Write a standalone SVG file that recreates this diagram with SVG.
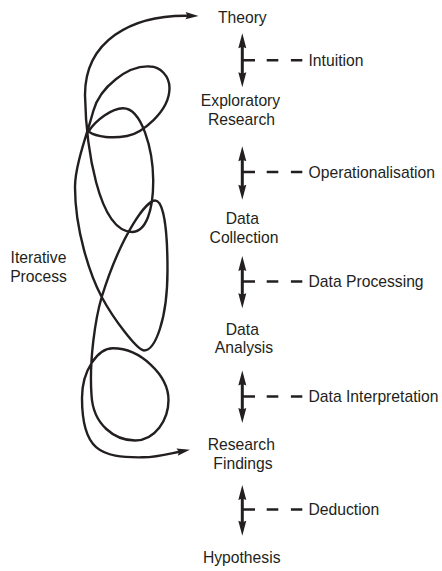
<svg xmlns="http://www.w3.org/2000/svg" width="442" height="571" viewBox="0 0 442 571">
  <style>
    text { font-family: "Liberation Sans", Arial, Helvetica, sans-serif; font-size: 15.7px; fill: #231f20; }
    .node text { text-anchor: middle; }
    .loop { fill: none; stroke: #231f20; stroke-width: 2.4; stroke-linejoin: round; }
    .link { fill: none; stroke: #231f20; stroke-width: 3; }
    .lead { fill: none; stroke: #231f20; stroke-width: 2.6; stroke-dasharray: 12.7 11.7 11.6 12.6 11.4; }
  </style>
  <defs>
    <!-- arrowheads for the iterative loop -->
    <marker id="loopHeadStart" markerUnits="userSpaceOnUse" viewBox="-12 -8 24 16" markerWidth="24" markerHeight="16" refX="0" refY="0" orient="auto" overflow="visible">
      <path d="M-7.5,0 L5.5,-3.6 L3.5,0 L5.5,3.6 Z" fill="#231f20"/>
    </marker>
    <marker id="loopHeadEnd" markerUnits="userSpaceOnUse" viewBox="-12 -8 24 16" markerWidth="24" markerHeight="16" refX="0" refY="0" orient="auto" overflow="visible">
      <path d="M8,0 L-5,-3.8 L-3,0 L-5,3.8 Z" fill="#231f20"/>
    </marker>
    <!-- arrowheads for the vertical two-way links -->
    <marker id="linkStart" markerUnits="userSpaceOnUse" viewBox="-12 -8 24 16" markerWidth="24" markerHeight="16" refX="0" refY="0" orient="auto" overflow="visible">
      <path d="M-8,0 L7,-4 L5.5,0 L7,4 Z" fill="#231f20"/>
    </marker>
    <marker id="linkEnd" markerUnits="userSpaceOnUse" viewBox="-12 -8 24 16" markerWidth="24" markerHeight="16" refX="0" refY="0" orient="auto" overflow="visible">
      <path d="M8,0 L-7,-4 L-5.5,0 L-7,4 Z" fill="#231f20"/>
    </marker>
  </defs>

  <g id="connectors">
    <!-- iterative loop from Theory down to Research Findings -->
    <path id="iteration" class="loop" marker-start="url(#loopHeadStart)" marker-end="url(#loopHeadEnd)"
      d="M191,15.8 C130,14 85,42 85,95 C86,146 98,231 132,232 C146,232 153.5,210 153.2,180 C153,150 142,108.3 123,108.3 C112,108.3 96,120 88.5,131.5 C97,137.5 113,138.5 127,136 C141,133.5 169.5,112 169.5,88 C169.5,76 160,66.5 150,66.5 C128,65 99.8,87 93.3,111 C87.5,133 75,165 75,187 C75,230 90,275 101.7,297 C113.5,319 137,350 144,350.5 C155,350.5 167.5,320 167.5,270 C167.5,225 163,200.5 155,200.5 C147,200.5 122,232 101.7,297 C95.5,318 89,360 91.5,395 C93,425 115,440.5 135,440.5 C155,440.5 168.5,420 168.5,400 C168.5,375 140,348.3 113,348.3 C98,348.3 82,370 82,398 C82,450 100,458 143,457.3 C158,457.3 170,453.5 182,451.2"/>

    <!-- two-way links between stages -->
    <g id="link-theory-exploratory">
      <line class="link" x1="242.3" y1="41.3" x2="242.3" y2="79.3" marker-start="url(#linkStart)" marker-end="url(#linkEnd)"/>
      <line class="lead" x1="242.3" y1="60.3" x2="302.3" y2="60.3"/>
    </g>
    <g id="link-exploratory-collection">
      <line class="link" x1="242.3" y1="154.3" x2="242.3" y2="191.7" marker-start="url(#linkStart)" marker-end="url(#linkEnd)"/>
      <line class="lead" x1="242.3" y1="172" x2="302.3" y2="172"/>
    </g>
    <g id="link-collection-analysis">
      <line class="link" x1="242.3" y1="264" x2="242.3" y2="300.3" marker-start="url(#linkStart)" marker-end="url(#linkEnd)"/>
      <line class="lead" x1="242.3" y1="281.5" x2="302.3" y2="281.5"/>
    </g>
    <g id="link-analysis-findings">
      <line class="link" x1="242.3" y1="378.5" x2="242.3" y2="415" marker-start="url(#linkStart)" marker-end="url(#linkEnd)"/>
      <line class="lead" x1="242.3" y1="396.5" x2="302.3" y2="396.5"/>
    </g>
    <g id="link-findings-hypothesis">
      <line class="link" x1="242.3" y1="493" x2="242.3" y2="527.7" marker-start="url(#linkStart)" marker-end="url(#linkEnd)"/>
      <line class="lead" x1="242.3" y1="509.5" x2="302.3" y2="509.5"/>
    </g>
  </g>

  <!-- labels on the dashed leaders -->
  <g id="link-labels">
    <text x="308.5" y="65.5">Intuition</text>
    <text x="308.5" y="177.5">Operationalisation</text>
    <text x="308.5" y="287">Data Processing</text>
    <text x="308.5" y="402">Data Interpretation</text>
    <text x="308.5" y="514.8">Deduction</text>
  </g>

  <!-- stages -->
  <g id="theory" class="node"><text x="242.3" y="22.5">Theory</text></g>
  <g id="exploratory-research" class="node">
    <text x="240.5" y="106">Exploratory</text>
    <text x="241.5" y="124.5">Research</text>
  </g>
  <g id="data-collection" class="node">
    <text x="242.3" y="224.3">Data</text>
    <text x="244" y="242.7">Collection</text>
  </g>
  <g id="data-analysis" class="node">
    <text x="242.3" y="334.5">Data</text>
    <text x="244" y="353">Analysis</text>
  </g>
  <g id="research-findings" class="node">
    <text x="241.3" y="450">Research</text>
    <text x="243" y="468.5">Findings</text>
  </g>
  <g id="hypothesis" class="node"><text x="241.7" y="563">Hypothesis</text></g>

  <g id="iterative-process" class="node">
    <text x="38.5" y="262.7">Iterative</text>
    <text x="38.5" y="281.7">Process</text>
  </g>
</svg>
